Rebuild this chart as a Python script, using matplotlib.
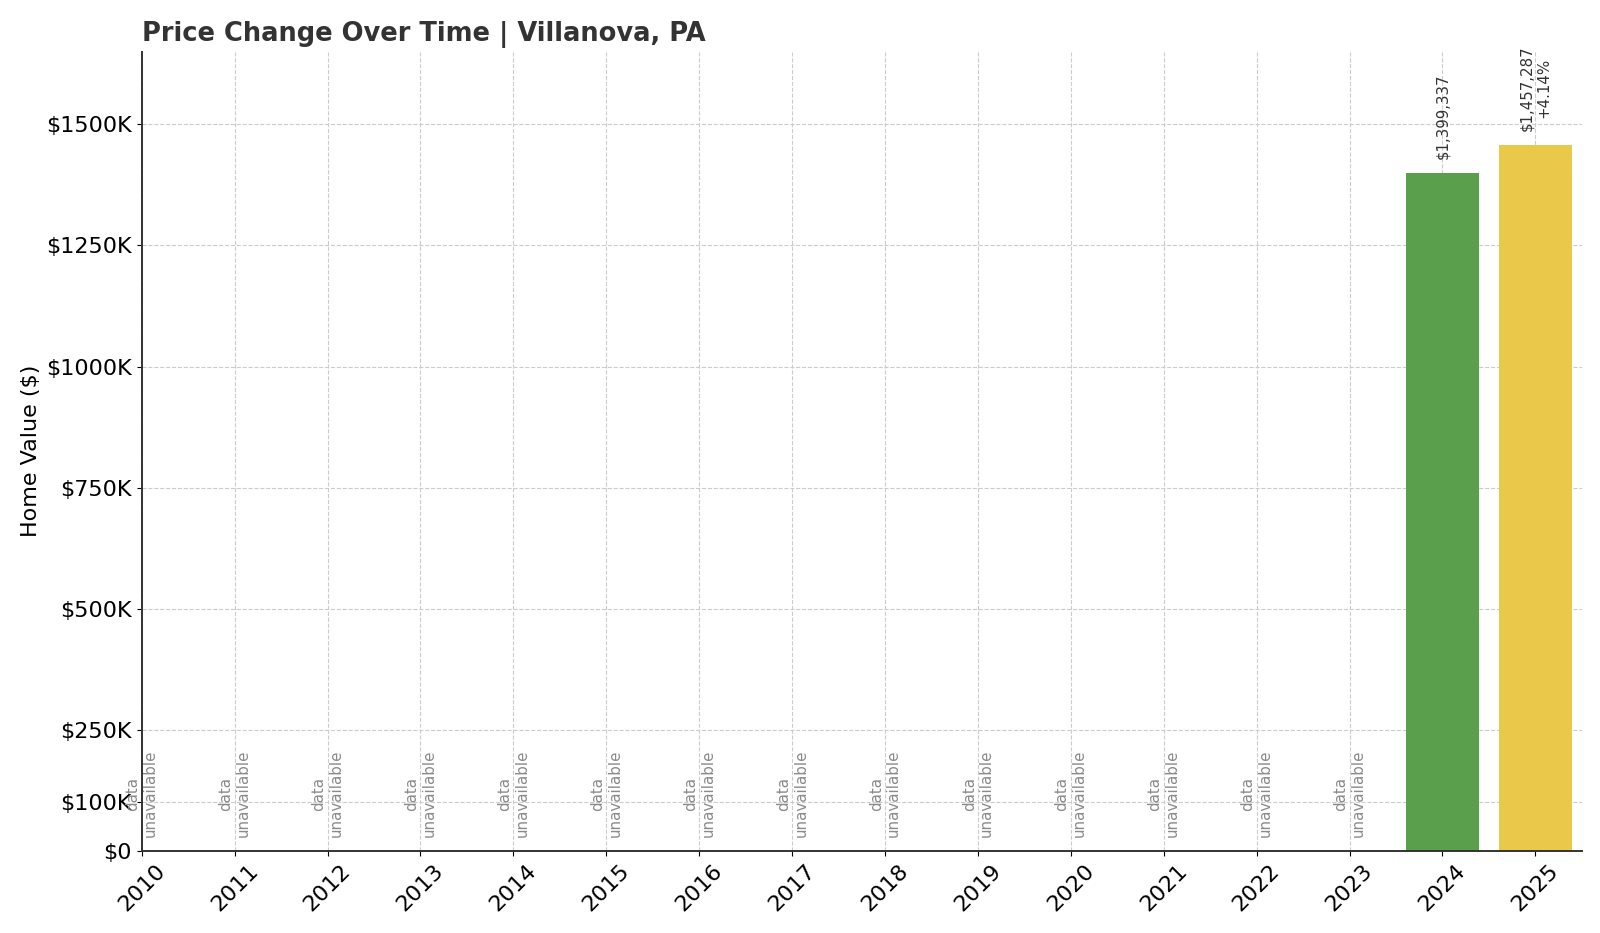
import numpy as np
import matplotlib
matplotlib.use("Agg")
import matplotlib.pyplot as plt

# Home values by year (None = no data)
years = list(range(2010, 2026))
values = [None] * 14 + [1399337, 1457287]
bar_colors = {2024: "#5aa04c", 2025: "#e9c84a"}
pct_change = {2025: "+4.14%"}

yticks = [0, 100000, 250000, 500000, 750000, 1000000, 1250000, 1500000]
ytick_labels = ["$0", "$100K", "$250K", "$500K", "$750K", "$1000K", "$1250K", "$1500K"]

fig = plt.figure(figsize=(16, 9.33), dpi=100)
ax = fig.add_axes([0.0886, 0.088, 0.9, 0.8566])

for yr, val in zip(years, values):
    if val is None:
        ax.text(yr, 28000, "data\nunavailable", rotation=90, ha="center", va="bottom",
                fontsize=10.8, color="#8a8a8a")
        continue
    ax.bar(yr, val, width=0.78, color=bar_colors[yr], zorder=2)
    label = f"${val:,.0f}"
    if yr in pct_change:
        label += "\n" + pct_change[yr]
    ax.text(yr, val + 29000, label, rotation=90, ha="center", va="bottom",
            fontsize=10.8, color="#333333")

ax.set_xlim(2010, 2025.5)
ax.set_ylim(0, 1650000)
ax.set_xticks(years)
ax.set_xticklabels([str(y) for y in years], rotation=45, fontsize=16)
ax.set_yticks(yticks)
ax.set_yticklabels(ytick_labels, fontsize=16)
ax.set_ylabel("Home Value ($)", fontsize=16)
ax.set_title("Price Change Over Time | Villanova, PA", loc="left", fontsize=18.5,
             fontweight="bold", color="#333333", pad=8)

ax.grid(True, linestyle="--", color="#cccccc", linewidth=0.8, zorder=0)
ax.set_axisbelow(True)
for s in ["top", "right"]:
    ax.spines[s].set_visible(False)
for s in ["left", "bottom"]:
    ax.spines[s].set_color("#333333")
    ax.spines[s].set_linewidth(1.4)

fig.savefig("out.png", dpi=100)
